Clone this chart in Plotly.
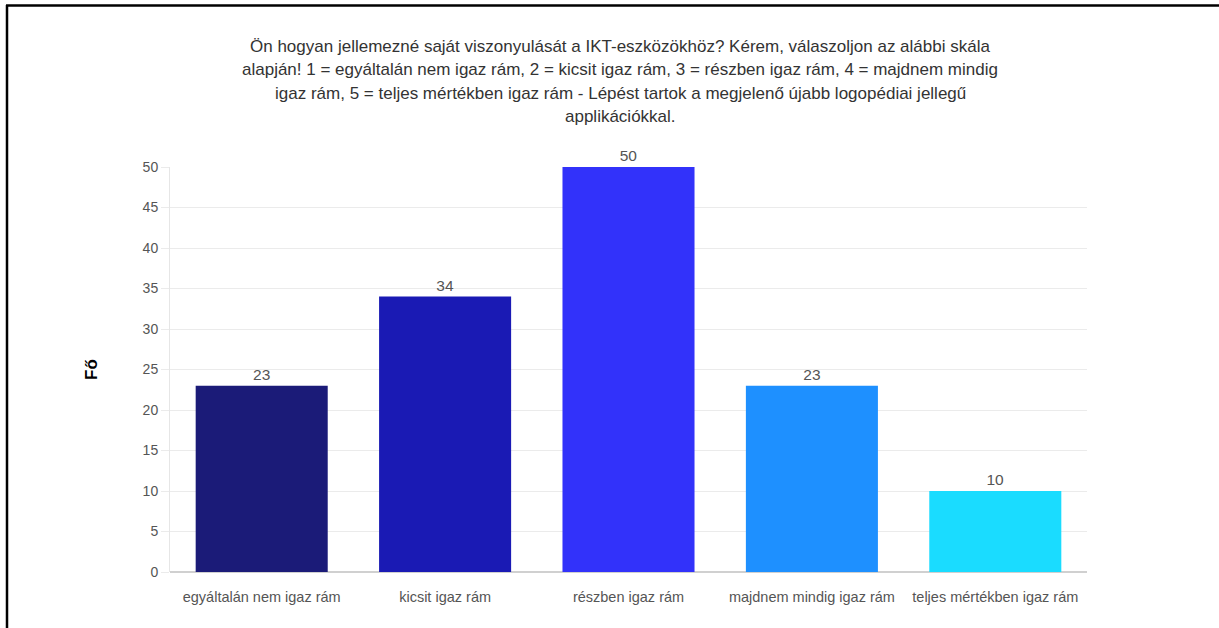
import plotly.graph_objects as go

categories = ["egyáltalán nem igaz rám", "kicsit igaz rám", "részben igaz rám",
              "majdnem mindig igaz rám", "teljes mértékben igaz rám"]
values = [23, 34, 50, 23, 10]
colors = ["#1b1b78", "#1a1ab4", "#3232fa", "#1e90ff", "#1adcff"]
y_ticks = [0, 5, 10, 15, 20, 25, 30, 35, 40, 45, 50]

title_lines = [
    "Ön hogyan jellemezné saját viszonyulását a IKT-eszközökhöz? Kérem, válaszoljon az alábbi skála",
    "alapján! 1 = egyáltalán nem igaz rám, 2 = kicsit igaz rám, 3 = részben igaz rám, 4 = majdnem mindig",
    "igaz rám, 5 = teljes mértékben igaz rám - Lépést tartok a megjelenő újabb logopédiai jellegű",
    "applikációkkal.",
]

W, H = 1219, 628
L, R, T, B = 170, 132, 167, 56
pw, ph = W - L - R, H - T - B

def px_x(px):
    return (px - L) / pw

def px_y(py):
    return (H - B - py) / ph

fig = go.Figure(go.Bar(
    x=categories, y=values,
    marker=dict(color=colors, line=dict(width=0)),
    text=values, textposition="outside", cliponaxis=False,
    textfont=dict(family="Liberation Sans, Arial, sans-serif", size=15.5, color="#555555"),
    width=0.72,
))

title_annotations = [
    dict(text=line, xref="paper", yref="paper",
         x=px_x(620), y=px_y(46.5 + 23.5 * i), xanchor="center", yanchor="middle",
         showarrow=False, align="center",
         font=dict(family="Liberation Sans, Arial, sans-serif", size=17, color="#333333"))
    for i, line in enumerate(title_lines)
]

fig.update_layout(
    width=W, height=H,
    margin=dict(l=L, r=R, t=T, b=B),
    paper_bgcolor="white", plot_bgcolor="white",
    showlegend=False,
    font=dict(family="Liberation Sans, Arial, sans-serif"),
    xaxis=dict(
        showgrid=False, showline=False, ticks="",
        tickfont=dict(size=14.5, color="#555555"),
        ticklabelstandoff=14,
        zeroline=False,
    ),
    yaxis=dict(
        range=[0, 50], tickvals=y_ticks,
        showgrid=True, gridcolor="#ebebeb", gridwidth=1,
        ticks="outside", ticklen=8, tickcolor="#ebebeb",
        tickfont=dict(size=14, color="#555555"),
        showline=True, linecolor="#e6e6e6", linewidth=1,
        zeroline=True, zerolinecolor="#d0d0d0", zerolinewidth=1.5,
        title=dict(text="<b>Fő</b>", font=dict(size=17, color="#000000"), standoff=40),
    ),
    annotations=title_annotations,
    shapes=[
        dict(type="line", xref="paper", yref="paper",
             x0=px_x(6), x1=px_x(1220), y0=px_y(5.5), y1=px_y(5.5),
             line=dict(color="black", width=2.5)),
        dict(type="line", xref="paper", yref="paper",
             x0=px_x(7), x1=px_x(7), y0=px_y(5), y1=px_y(630),
             line=dict(color="black", width=2.5)),
    ],
)

fig.write_html("out.html", config={"displayModeBar": False},
               post_script="document.body.style.margin='0px';document.body.style.overflow='hidden';")
